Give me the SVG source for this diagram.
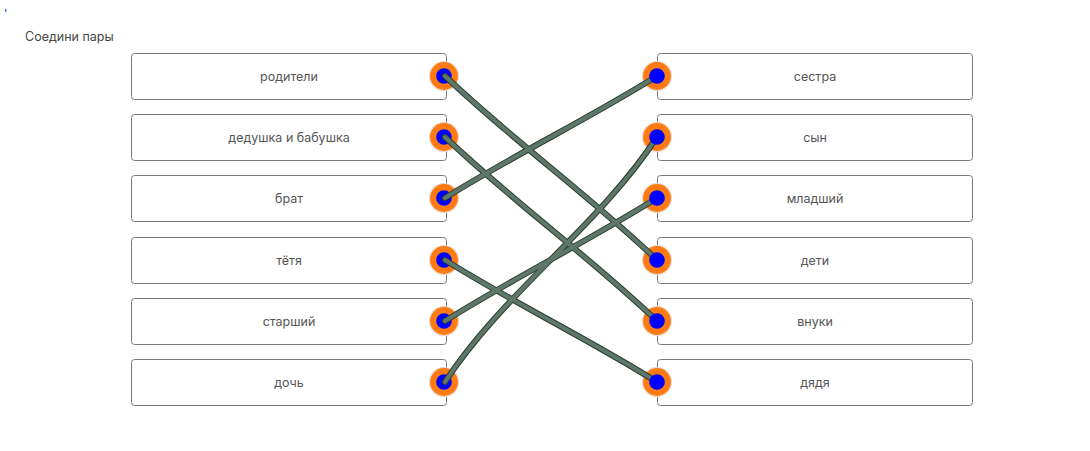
<svg xmlns="http://www.w3.org/2000/svg" width="1090" height="451" viewBox="0 0 1090 451">
<style>
.box{fill:#fff;stroke:#7a7a7a;stroke-width:1}
.lbl{font-family:Inter,"Noto Sans",sans-serif;font-size:12.5px;fill:#555;text-anchor:middle;dominant-baseline:central}
.title{font-family:Inter,"Noto Sans",sans-serif;font-size:12.5px;fill:#444}
.ring{fill:#ff7a10;stroke:#e8dcd0;stroke-width:1.2}
.dot{fill:#0000ff}
.wo{fill:none;stroke:#2e3e34;stroke-width:6;stroke-linecap:round}
.wi{fill:none;stroke:#5d7868;stroke-width:4;stroke-linecap:round}
</style>
<rect width="1090" height="451" fill="#fff"/>
<rect x="5" y="9" width="1.5" height="3" fill="#5577ee"/>
<text class="title" x="25" y="41">Соедини пары</text>

<g id="l0"><rect class="box" x="131.5" y="53.5" width="315" height="46" rx="3"/><text class="lbl" x="289" y="76">родители</text><circle class="ring" cx="444" cy="76" r="14.5"/><circle class="dot" cx="444" cy="76" r="7.8"/></g>
<g id="l1"><rect class="box" x="131.5" y="114.5" width="315" height="46" rx="3"/><text class="lbl" x="289" y="137">дедушка и бабушка</text><circle class="ring" cx="444" cy="137" r="14.5"/><circle class="dot" cx="444" cy="137" r="7.8"/></g>
<g id="l2"><rect class="box" x="131.5" y="175.5" width="315" height="46" rx="3"/><text class="lbl" x="289" y="198">брат</text><circle class="ring" cx="444" cy="198" r="14.5"/><circle class="dot" cx="444" cy="198" r="7.8"/></g>
<g id="l3"><rect class="box" x="131.5" y="237.5" width="315" height="46" rx="3"/><text class="lbl" x="289" y="260">тётя</text><circle class="ring" cx="444" cy="260" r="14.5"/><circle class="dot" cx="444" cy="260" r="7.8"/></g>
<g id="l4"><rect class="box" x="131.5" y="298.5" width="315" height="46" rx="3"/><text class="lbl" x="289" y="321">старший</text><circle class="ring" cx="444" cy="321" r="14.5"/><circle class="dot" cx="444" cy="321" r="7.8"/></g>
<g id="l5"><rect class="box" x="131.5" y="359.5" width="315" height="46" rx="3"/><text class="lbl" x="289" y="382">дочь</text><circle class="ring" cx="444" cy="382" r="14.5"/><circle class="dot" cx="444" cy="382" r="7.8"/></g>

<g id="r0"><rect class="box" x="657.5" y="53.5" width="315" height="46" rx="3"/><text class="lbl" x="815" y="76">сестра</text><circle class="ring" cx="657" cy="76" r="14.5"/></g>
<g id="r1"><rect class="box" x="657.5" y="114.5" width="315" height="46" rx="3"/><text class="lbl" x="815" y="137">сын</text><circle class="ring" cx="657" cy="137" r="14.5"/></g>
<g id="r2"><rect class="box" x="657.5" y="175.5" width="315" height="46" rx="3"/><text class="lbl" x="815" y="198">младший</text><circle class="ring" cx="657" cy="198" r="14.5"/></g>
<g id="r3"><rect class="box" x="657.5" y="237.5" width="315" height="46" rx="3"/><text class="lbl" x="815" y="260">дети</text><circle class="ring" cx="657" cy="260" r="14.5"/></g>
<g id="r4"><rect class="box" x="657.5" y="298.5" width="315" height="46" rx="3"/><text class="lbl" x="815" y="321">внуки</text><circle class="ring" cx="657" cy="321" r="14.5"/></g>
<g id="r5"><rect class="box" x="657.5" y="359.5" width="315" height="46" rx="3"/><text class="lbl" x="815" y="382">дядя</text><circle class="ring" cx="657" cy="382" r="14.5"/></g>

<g id="connectors">
<path class="wo" d="M445 76 C512 140 590 196 657 260"/>
<path class="wo" d="M445 137 C512 201 590 257 657 321"/>
<path class="wo" d="M445 198 C512 156 590 118 657 76"/>
<path class="wo" d="M445 260 C512 302 590 340 657 382"/>
<path class="wo" d="M445 321 C512 279 590 240 657 198"/>
<path class="wo" d="M445 382 C502 294 600 225 657 137"/>
<path class="wi" d="M445 76 C512 140 590 196 657 260"/>
<path class="wi" d="M445 137 C512 201 590 257 657 321"/>
<path class="wi" d="M445 198 C512 156 590 118 657 76"/>
<path class="wi" d="M445 260 C512 302 590 340 657 382"/>
<path class="wi" d="M445 321 C512 279 590 240 657 198"/>
<path class="wi" d="M445 382 C502 294 600 225 657 137"/>
</g>

<g id="right-dots">
<circle class="dot" cx="657" cy="76" r="7.8"/>
<circle class="dot" cx="657" cy="137" r="7.8"/>
<circle class="dot" cx="657" cy="198" r="7.8"/>
<circle class="dot" cx="657" cy="260" r="7.8"/>
<circle class="dot" cx="657" cy="321" r="7.8"/>
<circle class="dot" cx="657" cy="382" r="7.8"/>
</g>
</svg>
